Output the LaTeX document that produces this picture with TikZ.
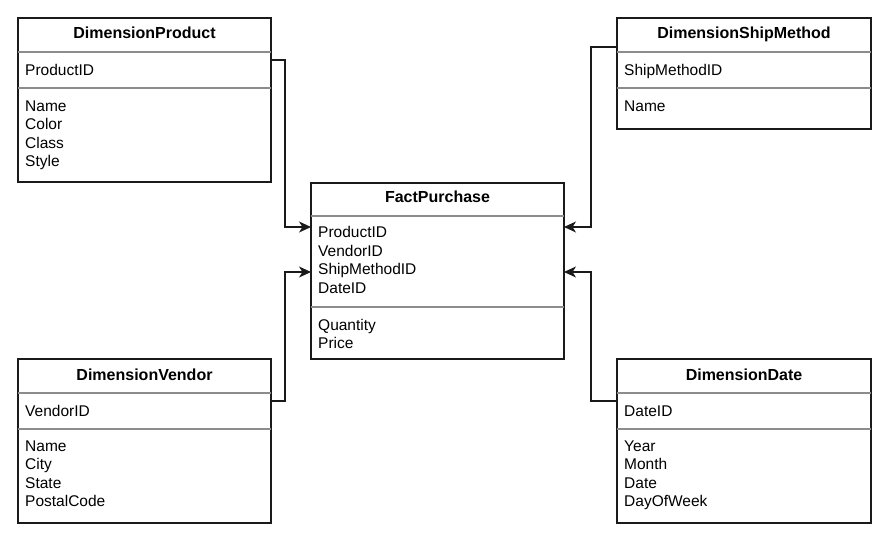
\documentclass[tikz,border=0pt]{standalone}
\usepackage{fontspec}
\setmainfont{Liberation Sans}
\usetikzlibrary{arrows.meta,calc}
\definecolor{bord}{HTML}{1A1A1A}
\definecolor{sepc}{HTML}{8C8C8C}
\tikzset{
  tbl/.style={draw=bord,line width=1.2pt,fill=white,anchor=north west,inner sep=0pt,outer sep=0pt},
  sepline/.style={draw=sepc,line width=1.2pt},
  ttl/.style={font=\fontsize{16}{18.5}\selectfont\bfseries,anchor=base,inner sep=0pt},
  attr/.style={font=\fontsize{15.5}{18.5}\selectfont,anchor=base west,inner sep=0pt},
  conn/.style={draw=bord,line width=1.2pt,-{Stealth[length=12pt,width=11pt,inset=3.5pt]}}
}
\begin{document}
\begin{tikzpicture}[x=1pt,y=-1pt]
\useasboundingbox[fill=white] (0,0) rectangle (888,541);

% DimensionProduct
\node[tbl,minimum width=253pt,minimum height=164pt] (prod) at (18,18) {};
\draw[sepline] (18,52) -- (271,52);
\draw[sepline] (18,88) -- (271,88);
\node[ttl] (prodt) at (144.5,38.5) {DimensionProduct};
\node[attr] (prodk) at (25,75) {ProductID};
\node[attr] (proda1) at (25,111) {Name};
\node[attr] (proda2) at (25,129.5) {Color};
\node[attr] (proda3) at (25,148) {Class};
\node[attr] (proda4) at (25,166.5) {Style};

% DimensionShipMethod
\node[tbl,minimum width=254pt,minimum height=111pt] (ship) at (617,18) {};
\draw[sepline] (617,52) -- (871,52);
\draw[sepline] (617,88) -- (871,88);
\node[ttl] (shipt) at (744,38.5) {DimensionShipMethod};
\node[attr] (shipk) at (624,75) {ShipMethodID};
\node[attr] (shipa1) at (624,111) {Name};

% FactPurchase
\node[tbl,minimum width=253pt,minimum height=176pt] (fact) at (311,183) {};
\draw[sepline] (311,216) -- (564,216);
\draw[sepline] (311,307) -- (564,307);
\node[ttl] (factt) at (437.5,202.5) {FactPurchase};
\node[attr] (factk1) at (318,237.5) {ProductID};
\node[attr] (factk2) at (318,256) {VendorID};
\node[attr] (factk3) at (318,274.5) {ShipMethodID};
\node[attr] (factk4) at (318,293) {DateID};
\node[attr] (facta1) at (318,330) {Quantity};
\node[attr] (facta2) at (318,348.5) {Price};

% DimensionVendor
\node[tbl,minimum width=253pt,minimum height=164pt] (vend) at (18,359) {};
\draw[sepline] (18,393) -- (271,393);
\draw[sepline] (18,429) -- (271,429);
\node[ttl] (vendt) at (144.5,380) {DimensionVendor};
\node[attr] (vendk) at (25,416) {VendorID};
\node[attr] (venda1) at (25,451) {Name};
\node[attr] (venda2) at (25,469.5) {City};
\node[attr] (venda3) at (25,488) {State};
\node[attr] (venda4) at (25,506.5) {PostalCode};

% DimensionDate
\node[tbl,minimum width=254pt,minimum height=164pt] (date) at (617,359) {};
\draw[sepline] (617,393) -- (871,393);
\draw[sepline] (617,429) -- (871,429);
\node[ttl] (datet) at (744,380.5) {DimensionDate};
\node[attr] (datek) at (624,416) {DateID};
\node[attr] (datea1) at (624,451) {Year};
\node[attr] (datea2) at (624,469.5) {Month};
\node[attr] (datea3) at (624,488) {Date};
\node[attr] (datea4) at (624,506.5) {DayOfWeek};

% connectors
\draw[conn] ($(prod.north east)+(0,42)$) -- ++(14,0) |- ($(fact.north west)+(0,44)$);
\draw[conn] ($(vend.north east)+(0,42)$) -- ++(14,0) |- ($(fact.north west)+(0,89)$);
\draw[conn] ($(ship.north west)+(0,29)$) -- ++(-26,0) |- ($(fact.north east)+(0,44)$);
\draw[conn] ($(date.north west)+(0,42)$) -- ++(-26,0) |- ($(fact.north east)+(0,89)$);
\end{tikzpicture}
\end{document}
